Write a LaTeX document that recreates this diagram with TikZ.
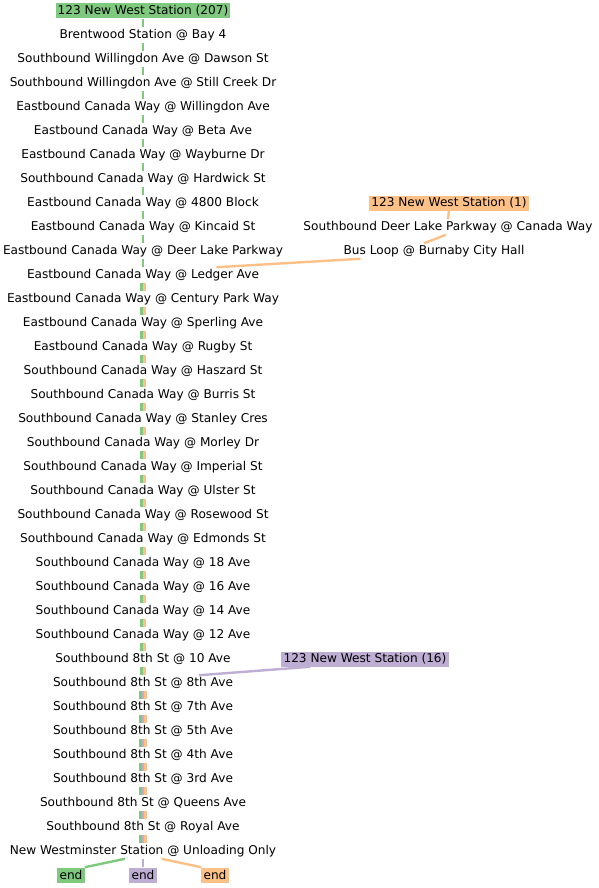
\documentclass[tikz,border=0pt]{standalone}
\usepackage{fontspec}
\setmainfont{DejaVu Sans}
\definecolor{routeA}{HTML}{7FC97F}
\definecolor{routeB}{HTML}{BEAED4}
\definecolor{routeC}{HTML}{FDC086}
\begin{document}
\begin{tikzpicture}[x=0.75pt, y=-0.75pt,
    every node/.style={font=\fontsize{9.1}{11}\selectfont, inner xsep=1.6pt, inner ysep=0pt, minimum height=11.25pt},
    head/.style={fill=#1},
    lineA/.style={routeA, line width=1.8pt},
    lineB/.style={routeB, line width=1.8pt},
    lineC/.style={routeC, line width=1.8pt}]
    \useasboundingbox (0,0) rectangle (599,888);

    % route heads
    \node[head=routeA] (hdA) at (143,11) {123 New West Station (207)};
    \node[head=routeC] (hdC) at (449,203) {123 New West Station (1)};
    \node[head=routeB] (hdB) at (365,659) {123 New West Station (16)};

    % stops
    \node (s1) at (143,35) {Brentwood Station @ Bay 4};
    \node (s2) at (143,59) {Southbound Willingdon Ave @ Dawson St};
    \node (s3) at (143,83) {Southbound Willingdon Ave @ Still Creek Dr};
    \node (s4) at (143,107) {Eastbound Canada Way @ Willingdon Ave};
    \node (s5) at (143,131) {Eastbound Canada Way @ Beta Ave};
    \node (s6) at (143,155) {Eastbound Canada Way @ Wayburne Dr};
    \node (s7) at (143,179) {Southbound Canada Way @ Hardwick St};
    \node (s8) at (143,203) {Eastbound Canada Way @ 4800 Block};
    \node (s9) at (143,227) {Eastbound Canada Way @ Kincaid St};
    \node (s10) at (143,251) {Eastbound Canada Way @ Deer Lake Parkway};
    \node (s11) at (143,275) {Eastbound Canada Way @ Ledger Ave};
    \node (s12) at (143,299) {Eastbound Canada Way @ Century Park Way};
    \node (s13) at (143,323) {Eastbound Canada Way @ Sperling Ave};
    \node (s14) at (143,347) {Eastbound Canada Way @ Rugby St};
    \node (s15) at (143,371) {Southbound Canada Way @ Haszard St};
    \node (s16) at (143,395) {Southbound Canada Way @ Burris St};
    \node (s17) at (143,419) {Southbound Canada Way @ Stanley Cres};
    \node (s18) at (143,443) {Southbound Canada Way @ Morley Dr};
    \node (s19) at (143,467) {Southbound Canada Way @ Imperial St};
    \node (s20) at (143,491) {Southbound Canada Way @ Ulster St};
    \node (s21) at (143,515) {Southbound Canada Way @ Rosewood St};
    \node (s22) at (143,539) {Southbound Canada Way @ Edmonds St};
    \node (s23) at (143,563) {Southbound Canada Way @ 18 Ave};
    \node (s24) at (143,587) {Southbound Canada Way @ 16 Ave};
    \node (s25) at (143,611) {Southbound Canada Way @ 14 Ave};
    \node (s26) at (143,635) {Southbound Canada Way @ 12 Ave};
    \node (s27) at (143,659) {Southbound 8th St @ 10 Ave};
    \node (s28) at (143,683) {Southbound 8th St @ 8th Ave};
    \node (s29) at (143,707) {Southbound 8th St @ 7th Ave};
    \node (s30) at (143,731) {Southbound 8th St @ 5th Ave};
    \node (s31) at (143,755) {Southbound 8th St @ 4th Ave};
    \node (s32) at (143,779) {Southbound 8th St @ 3rd Ave};
    \node (s33) at (143,803) {Southbound 8th St @ Queens Ave};
    \node (s34) at (143,827) {Southbound 8th St @ Royal Ave};
    \node (s35) at (143,851) {New Westminster Station @ Unloading Only};
    \node (o1) at (448,227) {Southbound Deer Lake Parkway @ Canada Way};
    \node (o2) at (434,251) {Bus Loop @ Burnaby City Hall};

    % ends
    \node[head=routeA] (endA) at (71,875) {end};
    \node[head=routeB] (endB) at (143,875) {end};
    \node[head=routeC] (endC) at (215,875) {end};

    % trunk
    \foreach \a/\b in {hdA/s1,s1/s2,s2/s3,s3/s4,s4/s5,s5/s6,s6/s7,s7/s8,s8/s9,s9/s10,s10/s11}
        \draw[lineA] (\a.south) -- (\b.north);
    \foreach \i in {11,...,27} {
        \pgfmathtruncatemacro{\j}{\i+1}
        \draw[lineA] ([xshift=-1.2pt]s\i.south) -- ([xshift=-1.2pt]s\j.north);
        \draw[lineC] ([xshift=1.2pt]s\i.south) -- ([xshift=1.2pt]s\j.north);
    }
    \foreach \i in {28,...,34} {
        \pgfmathtruncatemacro{\j}{\i+1}
        \draw[lineA] ([xshift=-2pt]s\i.south) -- ([xshift=-2pt]s\j.north);
        \draw[lineB] (s\i.south) -- (s\j.north);
        \draw[lineC] ([xshift=2pt]s\i.south) -- ([xshift=2pt]s\j.north);
    }

    % branches
    \draw[lineC] (hdC.south) -- (o1.north);
    \draw[lineC] ([xshift=-1.5pt]o1.south) -- ([xshift=-7.5pt]o2.north);
    \draw[lineC] ([xshift=-55pt]o2.south) -- ([xshift=55pt]s11.north);
    \draw[lineB] ([xshift=-41pt]hdB.south) -- ([xshift=42pt]s28.north);
    \draw[lineA] ([xshift=-13.5pt]s35.south) -- (endA.north east);
    \draw[lineB] (s35.south) -- (endB.north);
    \draw[lineC] ([xshift=14pt]s35.south) -- (endC.north west);
\end{tikzpicture}
\end{document}
